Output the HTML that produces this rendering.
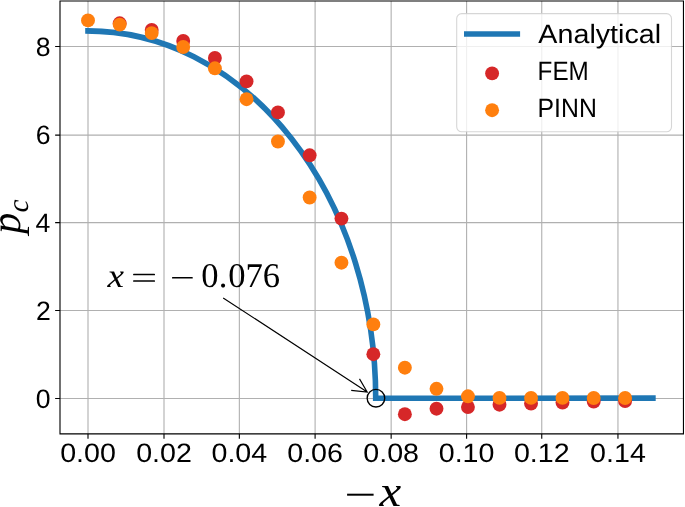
<!DOCTYPE html>
<html><head><meta charset="utf-8"><style>
html,body{margin:0;padding:0;background:#fff;}
svg{display:block;will-change:transform;}
text{font-kerning:none;text-rendering:geometricPrecision;}
</style></head><body>
<svg width="685" height="507" viewBox="0 0 685 507">
<rect width="685" height="507" fill="#fff"/>
<path d="M88.00 1.00V433.90M164.00 1.00V433.90M239.35 1.00V433.90M315.10 1.00V433.90M391.15 1.00V433.90M466.60 1.00V433.90M541.75 1.00V433.90M617.95 1.00V433.90M60.00 398.45H683.45M60.00 310.50H683.45M60.00 222.60H683.45M60.00 135.15H683.45M60.00 46.55H683.45" stroke="#b0b0b0" stroke-width="1.11" fill="none"/>
<path d="M88.00 30.90A287.71 367.40 0 0 1 375.71 398.30L652.9 398.1" fill="none" stroke="#1f77b4" stroke-width="5.6" stroke-linecap="square" stroke-linejoin="miter"/>
<circle cx="119.67" cy="23.30" r="6.95" fill="#d62728"/>
<circle cx="151.70" cy="29.90" r="6.95" fill="#d62728"/>
<circle cx="183.20" cy="41.00" r="6.95" fill="#d62728"/>
<circle cx="214.90" cy="58.00" r="6.95" fill="#d62728"/>
<circle cx="246.55" cy="81.40" r="6.95" fill="#d62728"/>
<circle cx="277.95" cy="112.40" r="6.95" fill="#d62728"/>
<circle cx="309.65" cy="155.30" r="6.95" fill="#d62728"/>
<circle cx="341.45" cy="218.60" r="6.95" fill="#d62728"/>
<circle cx="373.35" cy="354.20" r="6.95" fill="#d62728"/>
<circle cx="404.87" cy="414.20" r="6.95" fill="#d62728"/>
<circle cx="436.50" cy="408.70" r="6.95" fill="#d62728"/>
<circle cx="467.95" cy="407.10" r="6.95" fill="#d62728"/>
<circle cx="499.50" cy="404.70" r="6.95" fill="#d62728"/>
<circle cx="531.05" cy="403.60" r="6.95" fill="#d62728"/>
<circle cx="562.50" cy="402.60" r="6.95" fill="#d62728"/>
<circle cx="593.70" cy="401.50" r="6.95" fill="#d62728"/>
<circle cx="625.10" cy="401.00" r="6.95" fill="#d62728"/>
<circle cx="88.00" cy="20.40" r="6.95" fill="#ff7f0e"/>
<circle cx="119.67" cy="24.60" r="6.95" fill="#ff7f0e"/>
<circle cx="151.70" cy="33.10" r="6.95" fill="#ff7f0e"/>
<circle cx="183.20" cy="47.00" r="6.95" fill="#ff7f0e"/>
<circle cx="214.90" cy="68.30" r="6.95" fill="#ff7f0e"/>
<circle cx="246.55" cy="99.20" r="6.95" fill="#ff7f0e"/>
<circle cx="277.95" cy="141.50" r="6.95" fill="#ff7f0e"/>
<circle cx="309.65" cy="197.50" r="6.95" fill="#ff7f0e"/>
<circle cx="341.45" cy="262.70" r="6.95" fill="#ff7f0e"/>
<circle cx="373.35" cy="324.40" r="6.95" fill="#ff7f0e"/>
<circle cx="404.87" cy="367.70" r="6.95" fill="#ff7f0e"/>
<circle cx="436.50" cy="388.80" r="6.95" fill="#ff7f0e"/>
<circle cx="467.95" cy="396.30" r="6.95" fill="#ff7f0e"/>
<circle cx="499.50" cy="397.90" r="6.95" fill="#ff7f0e"/>
<circle cx="531.05" cy="397.90" r="6.95" fill="#ff7f0e"/>
<circle cx="562.50" cy="397.90" r="6.95" fill="#ff7f0e"/>
<circle cx="593.70" cy="398.00" r="6.95" fill="#ff7f0e"/>
<circle cx="625.10" cy="398.00" r="6.95" fill="#ff7f0e"/>
<circle cx="375.95" cy="398.2" r="8.8" fill="none" stroke="#000" stroke-width="1.35"/>
<path d="M223.2 297.9L367.2 392.0M359.5 378.9L367.2 392.0L351.2 390.4" fill="none" stroke="#000" stroke-width="1.15" stroke-linejoin="miter" stroke-miterlimit="10"/>
<path d="M60.0 433.9V1.0H683.45V433.9Z" fill="none" stroke="#000" stroke-width="1.11" stroke-linejoin="miter"/>
<path d="M88.00 433.90v4.86M164.00 433.90v4.86M239.35 433.90v4.86M315.10 433.90v4.86M391.15 433.90v4.86M466.60 433.90v4.86M541.75 433.90v4.86M617.95 433.90v4.86M60.00 398.45h-4.86M60.00 310.50h-4.86M60.00 222.60h-4.86M60.00 135.15h-4.86M60.00 46.55h-4.86" stroke="#000" stroke-width="1.11" fill="none"/>
<text transform="translate(60.13,461.9) scale(1.0766,1)" font-family="'Liberation Sans',sans-serif" font-size="26.6">0.00</text>
<text transform="translate(136.13,461.9) scale(1.0766,1)" font-family="'Liberation Sans',sans-serif" font-size="26.6">0.02</text>
<text transform="translate(211.48,461.9) scale(1.0766,1)" font-family="'Liberation Sans',sans-serif" font-size="26.6">0.04</text>
<text transform="translate(287.23,461.9) scale(1.0766,1)" font-family="'Liberation Sans',sans-serif" font-size="26.6">0.06</text>
<text transform="translate(363.28,461.9) scale(1.0766,1)" font-family="'Liberation Sans',sans-serif" font-size="26.6">0.08</text>
<text transform="translate(438.73,461.9) scale(1.0766,1)" font-family="'Liberation Sans',sans-serif" font-size="26.6">0.10</text>
<text transform="translate(513.88,461.9) scale(1.0766,1)" font-family="'Liberation Sans',sans-serif" font-size="26.6">0.12</text>
<text transform="translate(590.08,461.9) scale(1.0766,1)" font-family="'Liberation Sans',sans-serif" font-size="26.6">0.14</text>
<text transform="translate(35.65,407.60)" font-family="'Liberation Sans',sans-serif" font-size="26.6">0</text>
<text transform="translate(35.94,319.65)" font-family="'Liberation Sans',sans-serif" font-size="26.6">2</text>
<text transform="translate(35.39,231.75)" font-family="'Liberation Sans',sans-serif" font-size="26.6">4</text>
<text transform="translate(35.78,144.30)" font-family="'Liberation Sans',sans-serif" font-size="26.6">6</text>
<text transform="translate(35.76,55.70)" font-family="'Liberation Sans',sans-serif" font-size="26.6">8</text>
<rect x="456.7" y="13.6" width="214.8" height="118.2" rx="5" ry="5" fill="#fff" fill-opacity="0.8" stroke="#ccc" stroke-opacity="0.8" stroke-width="1.11"/>
<path d="M466.8 33.95H517.3" stroke="#1f77b4" stroke-width="5.6" stroke-linecap="square"/>
<circle cx="492.1" cy="73.4" r="6.95" fill="#d62728"/>
<circle cx="492.1" cy="110.2" r="6.95" fill="#ff7f0e"/>
<text transform="translate(538.34,43.20) scale(1.0825,1)" font-family="'Liberation Sans',sans-serif" font-size="26.5">Analytical</text>
<text transform="translate(537.61,80.00) scale(0.9149,1)" font-family="'Liberation Sans',sans-serif" font-size="26.5">FEM</text>
<text transform="translate(537.57,116.70) scale(0.9359,1)" font-family="'Liberation Sans',sans-serif" font-size="26.5">PINN</text>
<text transform="translate(20.4,233.8) rotate(-90)" font-family="'Liberation Serif',serif" font-style="italic" font-size="42.3">p</text>
<text transform="translate(27.8,212.4) rotate(-90)" font-family="'Liberation Serif',serif" font-style="italic" font-size="29.5">c</text>
<rect x="347.1" y="493.7" width="26.5" height="2.0" fill="#000"/>
<text transform="translate(379.50,506.00) scale(1.1194,1)" font-family="'Liberation Serif',serif" font-style="italic" font-size="43.6">x</text>
<text transform="translate(107.55,286.70) scale(1.1076,1)" font-family="'Liberation Serif',serif" font-style="italic" font-size="33.6">x</text>
<rect x="133.1" y="273.85" width="21.9" height="1.5" rx="0.6" fill="#000"/>
<rect x="133.1" y="280.25" width="21.9" height="1.5" rx="0.6" fill="#000"/>
<rect x="172.0" y="277.1" width="20.8" height="1.5" rx="0.6" fill="#000"/>
<text x="201.35 218.65 228.27 245.57 262.87" y="286.7" font-family="'Liberation Serif',serif" font-size="34.6">0.076</text>
</svg>
</body></html>
